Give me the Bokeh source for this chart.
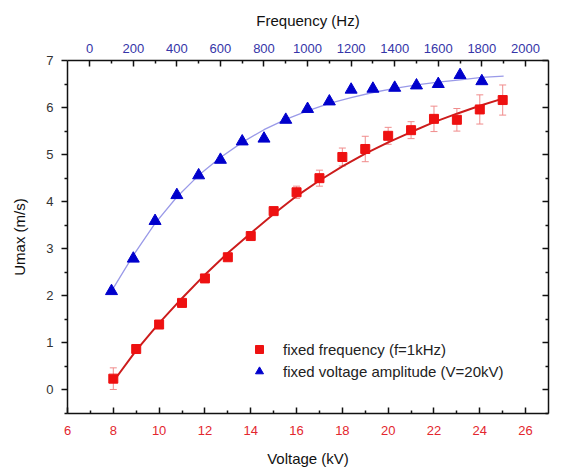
from bokeh.plotting import figure
from bokeh.models import (Range1d, LinearAxis, FixedTicker, ColumnDataSource,
                          Whisker, TeeHead, Legend, LegendItem)
from bokeh.embed import file_html
from bokeh.resources import INLINE

# ---- data ----
voltage_kv = [8, 9, 10, 11, 12, 13, 14, 15, 16, 17, 18, 19, 20, 21, 22, 23, 24, 25]
umax_fixed_freq = [0.24, 0.87, 1.39, 1.85, 2.37, 2.82, 3.27, 3.80, 4.20, 4.50,
                   4.95, 5.12, 5.40, 5.52, 5.76, 5.74, 5.96, 6.16]
umax_fixed_freq_err = [0.23, 0.07, 0.08, 0.05, 0.05, 0.05, 0.07, 0.07, 0.13, 0.17,
                       0.19, 0.27, 0.18, 0.18, 0.27, 0.24, 0.31, 0.32]
fit_voltage_kv = [8, 9, 10, 11, 12, 13, 14, 15, 16, 17, 18, 19, 20, 21, 22, 23, 24, 25]
fit_fixed_freq = [0.18, 0.84, 1.42, 1.95, 2.45, 2.91, 3.33, 3.74, 4.12, 4.45,
                  4.75, 5.02, 5.26, 5.48, 5.69, 5.87, 6.04, 6.19]

frequency_hz = [100, 200, 300, 400, 500, 600, 700, 800, 900, 1000,
                1100, 1200, 1300, 1400, 1500, 1600, 1700, 1800]
umax_fixed_volt = [2.10, 2.79, 3.59, 4.14, 4.56, 4.89, 5.28, 5.34, 5.74, 5.97,
                   6.13, 6.38, 6.40, 6.42, 6.47, 6.50, 6.69, 6.56]
fit_frequency_hz = [100, 200, 300, 400, 500, 600, 700, 800, 900, 1000,
                    1100, 1200, 1300, 1400, 1500, 1600, 1700, 1800, 1900]
fit_fixed_volt = [2.10, 2.86, 3.54, 4.10, 4.56, 4.94, 5.26, 5.53, 5.75, 5.93,
                  6.09, 6.21, 6.32, 6.41, 6.48, 6.54, 6.59, 6.64, 6.67]

voltage_ticks = [6, 8, 10, 12, 14, 16, 18, 20, 22, 24, 26]
voltage_minor = [7, 9, 11, 13, 15, 17, 19, 21, 23, 25]
freq_ticks = [0, 200, 400, 600, 800, 1000, 1200, 1400, 1600, 1800, 2000]
freq_minor = [100, 300, 500, 700, 900, 1100, 1300, 1500, 1700, 1900]
umax_ticks = [0, 1, 2, 3, 4, 5, 6, 7]
umax_minor = [-0.5, 0.5, 1.5, 2.5, 3.5, 4.5, 5.5, 6.5]

FONT = "Liberation Sans"
RED = "#ee1111"
BLUE = "#0000cc"

p = figure(width=562, height=470, output_backend="svg", toolbar_location=None,
           x_range=Range1d(6, 27), y_range=Range1d(-0.5, 7),
           x_axis_location=None, y_axis_location=None,
           min_border_left=67, min_border_right=14,
           min_border_top=60, min_border_bottom=57)
p.extra_x_ranges = {"freq": Range1d(-102, 2106)}
p.grid.grid_line_color = None
p.outline_line_color = None
p.background_fill_color = "white"
p.border_fill_color = "white"


def style(ax):
    ax.axis_line_color = "#111111"
    ax.axis_line_width = 1.5
    ax.major_tick_line_color = "#111111"
    ax.minor_tick_line_color = "#111111"
    ax.major_tick_line_width = 1.5
    ax.minor_tick_line_width = 1.5
    ax.major_label_text_font = FONT
    ax.major_label_text_font_size = "13px"
    ax.axis_label_text_font = FONT
    ax.axis_label_text_font_size = "15px"
    ax.axis_label_text_font_style = "normal"
    ax.axis_label_text_color = "#111111"


bottom = LinearAxis(ticker=FixedTicker(ticks=voltage_ticks, minor_ticks=voltage_minor),
                    axis_label="Voltage (kV)")
style(bottom)
bottom.major_tick_in, bottom.major_tick_out = 6, 0
bottom.minor_tick_in, bottom.minor_tick_out = 3, 0
bottom.major_label_standoff = 12
bottom.axis_label_standoff = 12
bottom.major_label_text_color = "#e3262e"
p.add_layout(bottom, "below")

top = LinearAxis(x_range_name="freq",
                 ticker=FixedTicker(ticks=freq_ticks, minor_ticks=freq_minor),
                 axis_label="Frequency (Hz)")
style(top)
top.major_tick_in, top.major_tick_out = 6, 0
top.minor_tick_in, top.minor_tick_out = 3, 0
top.major_label_standoff = 8
top.axis_label_standoff = 12
top.major_label_text_color = "#3535a8"
p.add_layout(top, "above")

left = LinearAxis(ticker=FixedTicker(ticks=umax_ticks, minor_ticks=umax_minor),
                  axis_label="Umax (m/s)")
style(left)
left.major_tick_in, left.major_tick_out = 0, 6
left.minor_tick_in, left.minor_tick_out = 0, 3
left.major_label_standoff = 8
left.axis_label_standoff = 15
left.major_label_text_color = "#333333"
p.add_layout(left, "left")

right = LinearAxis(ticker=FixedTicker(ticks=umax_ticks, minor_ticks=umax_minor))
style(right)
right.major_tick_in, right.major_tick_out = 6, 0
right.minor_tick_in, right.minor_tick_out = 3, 0
right.major_label_overrides = {t: "" for t in umax_ticks}
right.major_label_standoff = 0
p.add_layout(right, "right")

# fit curves
p.line(fit_frequency_hz, fit_fixed_volt, x_range_name="freq",
       line_color="#9a9ae8", line_width=1.3)
p.line(fit_voltage_kv, fit_fixed_freq, line_color="#cc1c1c", line_width=2)

# error bars
err_src = ColumnDataSource(dict(
    x=voltage_kv,
    upper=[v + e for v, e in zip(umax_fixed_freq, umax_fixed_freq_err)],
    lower=[v - e for v, e in zip(umax_fixed_freq, umax_fixed_freq_err)],
))
p.add_layout(Whisker(source=err_src, base="x", upper="upper", lower="lower",
                     dimension="height", line_color="#f08c8c", line_width=1,
                     upper_head=TeeHead(size=7, line_color="#f08c8c", line_width=1),
                     lower_head=TeeHead(size=7, line_color="#f08c8c", line_width=1)))

r_red = p.scatter(voltage_kv, umax_fixed_freq, marker="square", size=9,
                  fill_color=RED, line_color=RED)
r_blue = p.scatter(frequency_hz, umax_fixed_volt, marker="triangle", size=12,
                   x_range_name="freq", fill_color=BLUE, line_color=BLUE)

legend = Legend(items=[LegendItem(label="fixed frequency (f=1kHz)", renderers=[r_red]),
                       LegendItem(label="fixed voltage amplitude (V=20kV)", renderers=[r_blue])],
                location=(182, 32), border_line_color=None, background_fill_alpha=0,
                padding=0, margin=0, spacing=2, glyph_width=20, glyph_height=20,
                label_height=20, label_standoff=14, label_text_font=FONT,
                label_text_font_size="15px", label_text_color="#222222")
p.add_layout(legend)

open("out.html", "w").write(file_html(p, INLINE))
